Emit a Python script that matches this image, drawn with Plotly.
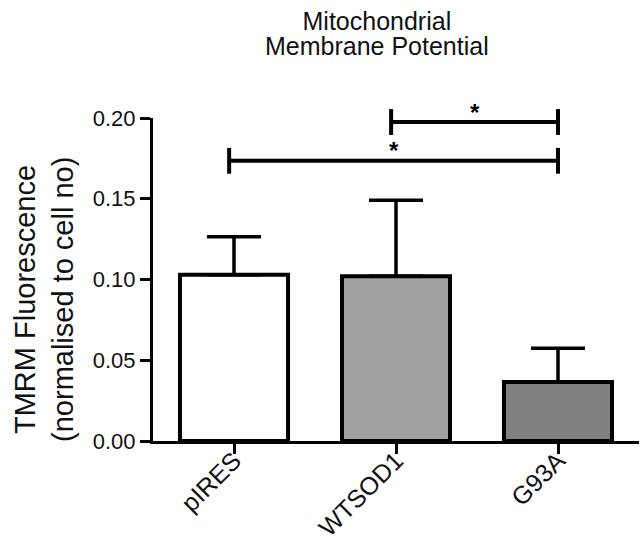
import plotly.graph_objects as go

categories = ["pIRES", "WTSOD1", "G93A"]
means = [0.103, 0.102, 0.0365]
errors = [0.0235, 0.047, 0.021]
bar_colors = ["#ffffff", "#a0a0a0", "#808080"]
y_ticks = [0.00, 0.05, 0.10, 0.15, 0.20]
y_tick_labels = ["0.00", "0.05", "0.10", "0.15", "0.20"]
# significance comparisons: (from category index, to category index, bracket height)
comparisons = [(0, 2, 0.1735), (1, 2, 0.1975)]
sig_labels = ["*", "*"]

YMAX = 0.20
FONT = "Liberation Sans, Arial, sans-serif"

fig = go.Figure()
fig.add_trace(go.Bar(
    x=list(range(len(categories))),
    y=means,
    width=0.667,
    marker=dict(color=bar_colors, line=dict(color="black", width=4)),
    error_y=dict(type="data", symmetric=False, array=errors,
                 arrayminus=[0] * len(errors), color="black",
                 thickness=3.5, width=27),
    showlegend=False,
    hoverinfo="skip",
))

shapes = []
annotations = []
tick_half = 0.008
for (i, j, h), lab in zip(comparisons, sig_labels):
    x0 = i - 0.03
    x1 = j
    yp = h / YMAX
    line = dict(color="black", width=4)
    shapes.append(dict(type="line", xref="x", yref="paper", x0=x0, x1=x1, y0=yp, y1=yp, line=line))
    for xx in (x0, x1):
        shapes.append(dict(type="line", xref="x", yref="paper", x0=xx, x1=xx,
                           y0=(h - tick_half) / YMAX, y1=(h + tick_half) / YMAX, line=line))
    annotations.append(dict(text="<b>" + lab + "</b>", x=(x0 + x1) / 2, xref="x",
                            y=yp, yref="paper", yanchor="middle", yshift=10,
                            showarrow=False, font=dict(family=FONT, size=24, color="black")))

# title (tight line spacing: small base font, larger spans)
title_lines = ["Mitochondrial", "Membrane Potential"]
annotations.append(dict(
    text="<br>".join('<span style="font-size:25px">%s</span>' % t for t in title_lines),
    xref="paper", yref="paper", x=0.461, y=1.262, xanchor="center", yanchor="middle",
    showarrow=False, font=dict(family=FONT, size=19.6, color="#111")))
# y axis title lines
annotations.append(dict(text="TMRM Fluorescence", xref="paper", yref="paper", x=-0.263, y=0.437,
                        xanchor="center", yanchor="middle", textangle=-90, showarrow=False,
                        font=dict(family=FONT, size=29, color="#111")))
annotations.append(dict(text="(normalised to cell no)", xref="paper", yref="paper", x=-0.185, y=0.437,
                        xanchor="center", yanchor="middle", textangle=-90, showarrow=False,
                        font=dict(family=FONT, size=29, color="#111")))

fig.update_layout(
    width=641, height=542,
    margin=dict(l=153, r=2, t=118, b=101, autoexpand=False),
    plot_bgcolor="white", paper_bgcolor="white",
    shapes=shapes, annotations=annotations,
    xaxis=dict(range=[-0.5, 2.5], tickmode="array", tickvals=list(range(len(categories))),
               ticktext=categories, tickangle=-45, showline=True, linecolor="black",
               linewidth=3, ticks="outside", ticklen=10, tickwidth=3, tickcolor="black",
               showgrid=False, zeroline=False, automargin=False, ticklabelstandoff=-18,
               tickfont=dict(family=FONT, size=25, color="#111")),
    yaxis=dict(range=[0, YMAX], tickmode="array", tickvals=y_ticks, ticktext=y_tick_labels,
               showline=True, linecolor="black", linewidth=3, ticks="outside", ticklen=10,
               tickwidth=3, tickcolor="black", showgrid=False, zeroline=False, automargin=False,
               tickfont=dict(family=FONT, size=22, color="#111")),
)

fig.write_html("out.html", config={"displayModeBar": False},
               post_script="document.body.style.margin='0';")
